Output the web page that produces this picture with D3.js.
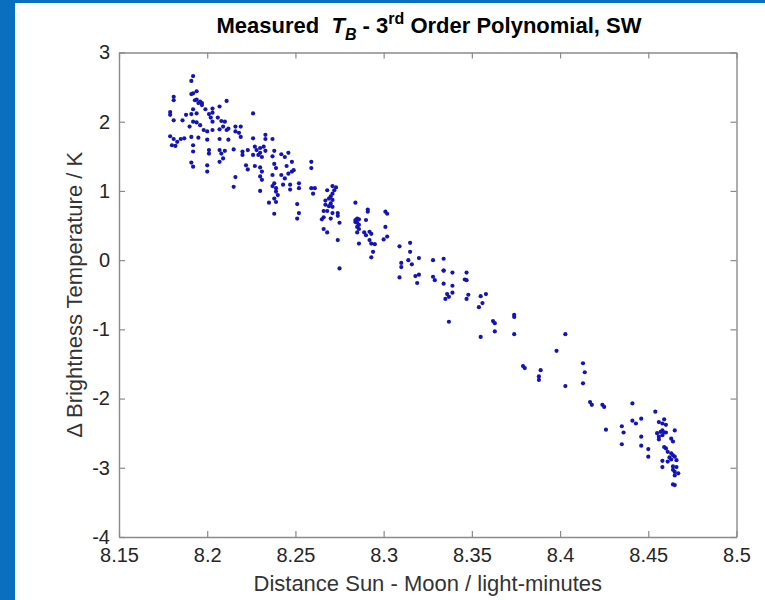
<!DOCTYPE html>
<html>
<head>
	<meta charset="utf-8">
	<title>Measured TB - 3rd Order Polynomial, SW</title>
	<script src="https://d3js.org/d3.v7.min.js"></script>
	<style>
		body { margin: 0; }
		svg { display: block; font-family: 'Liberation Sans', Arial, Helvetica, sans-serif; }
	</style>
</head>
<body>
	<div class="chart"></div>

	<script type="text/javascript">

		// tick values of the two axes
		var xTicks = [8.15, 8.2, 8.25, 8.3, 8.35, 8.4, 8.45, 8.5]
		var yTicks = [-4, -3, -2, -1, 0, 1, 2, 3]

		// [distance sun-moon (light-minutes), delta brightness temperature (K)]
		var measured = [
			[8.192, 2.66], [8.191, 2.59], [8.181, 2.36], [8.181, 2.31], [8.191, 2.40], [8.192, 2.41],
			[8.194, 2.44], [8.193, 2.31], [8.194, 2.32], [8.196, 2.29], [8.197, 2.27], [8.195, 2.27],
			[8.197, 2.24], [8.211, 2.30], [8.207, 2.22], [8.179, 2.14], [8.179, 2.10], [8.192, 2.18],
			[8.199, 2.18], [8.203, 2.19], [8.203, 2.13], [8.201, 2.11], [8.188, 2.10], [8.191, 2.11],
			[8.194, 2.12], [8.226, 2.12], [8.181, 2.02], [8.186, 2.02], [8.202, 2.06], [8.206, 2.06],
			[8.208, 2.01], [8.192, 2.00], [8.194, 1.99], [8.196, 1.95], [8.190, 1.93], [8.203, 2.00],
			[8.210, 2.00], [8.209, 1.93], [8.211, 1.88], [8.212, 1.90], [8.216, 1.93], [8.219, 1.93],
			[8.216, 1.86], [8.218, 1.84], [8.198, 1.88], [8.200, 1.86], [8.203, 1.88], [8.207, 1.89],
			[8.179, 1.79], [8.181, 1.75], [8.183, 1.71], [8.185, 1.75], [8.187, 1.76], [8.191, 1.78],
			[8.195, 1.77], [8.200, 1.74], [8.207, 1.75], [8.212, 1.74], [8.219, 1.78], [8.226, 1.76],
			[8.233, 1.81], [8.233, 1.75], [8.237, 1.75], [8.180, 1.66], [8.182, 1.65], [8.192, 1.66],
			[8.201, 1.59], [8.207, 1.59], [8.208, 1.54], [8.210, 1.58], [8.215, 1.60], [8.220, 1.57],
			[8.223, 1.59], [8.227, 1.64], [8.228, 1.59], [8.230, 1.62], [8.232, 1.64], [8.233, 1.58],
			[8.238, 1.58], [8.192, 1.57], [8.201, 1.54], [8.220, 1.52], [8.226, 1.52], [8.229, 1.52],
			[8.231, 1.49], [8.230, 1.55], [8.237, 1.50], [8.242, 1.53], [8.246, 1.55], [8.244, 1.49],
			[8.209, 1.47], [8.207, 1.42], [8.191, 1.41], [8.192, 1.35], [8.200, 1.37], [8.222, 1.37],
			[8.223, 1.31], [8.227, 1.36], [8.230, 1.34], [8.231, 1.28], [8.238, 1.39], [8.239, 1.33],
			[8.245, 1.36], [8.248, 1.42], [8.259, 1.42], [8.259, 1.33], [8.200, 1.28], [8.216, 1.20],
			[8.215, 1.06], [8.230, 1.21], [8.231, 1.16], [8.237, 1.23], [8.242, 1.23], [8.244, 1.18],
			[8.246, 1.25], [8.248, 1.28], [8.249, 1.30], [8.237, 1.07], [8.238, 1.11], [8.239, 1.04],
			[8.230, 1.00], [8.243, 1.09], [8.247, 1.09], [8.247, 1.02], [8.252, 1.11], [8.252, 1.04],
			[8.239, 0.99], [8.240, 0.94], [8.238, 0.89], [8.239, 0.84], [8.235, 0.83], [8.238, 0.67],
			[8.251, 0.81], [8.252, 0.68], [8.251, 0.60],
			[8.259, 1.04], [8.261, 1.04], [8.260, 0.96], [8.268, 1.01], [8.271, 1.07], [8.273, 1.05],
			[8.272, 1.01], [8.271, 0.96], [8.270, 0.92], [8.269, 0.89], [8.271, 0.87], [8.270, 0.82],
			[8.267, 0.86], [8.267, 0.80], [8.269, 0.78], [8.271, 0.77], [8.266, 0.71], [8.268, 0.71],
			[8.271, 0.68], [8.274, 0.68], [8.274, 0.64], [8.266, 0.62], [8.265, 0.59], [8.270, 0.60],
			[8.275, 0.54], [8.266, 0.45], [8.268, 0.40], [8.274, 0.29], [8.275, -0.12],
			[8.284, 0.83], [8.284, 0.58], [8.285, 0.60], [8.286, 0.59], [8.285, 0.54], [8.286, 0.51],
			[8.285, 0.48], [8.286, 0.45], [8.285, 0.40], [8.284, 0.55], [8.290, 0.58], [8.291, 0.73],
			[8.291, 0.70], [8.289, 0.40], [8.290, 0.36], [8.292, 0.41], [8.293, 0.38], [8.292, 0.29],
			[8.293, 0.24], [8.295, 0.23], [8.286, 0.24], [8.294, 0.12], [8.293, 0.04],
			[8.301, 0.70], [8.302, 0.67], [8.301, 0.48], [8.302, 0.34], [8.300, 0.30],
			[8.309, 0.20], [8.315, 0.25], [8.315, 0.12], [8.310, -0.04], [8.310, -0.10], [8.309, -0.25],
			[8.314, 0.00], [8.316, -0.06], [8.320, 0.03], [8.318, -0.23], [8.320, -0.21], [8.319, -0.33],
			[8.328, 0.00], [8.334, 0.02], [8.328, -0.24], [8.329, -0.29], [8.334, -0.15], [8.334, -0.15],
			[8.334, -0.34], [8.339, -0.18], [8.339, -0.37], [8.339, -0.47], [8.336, -0.49], [8.337, -0.53],
			[8.335, -0.56], [8.337, -0.89],
			[8.347, -0.18], [8.346, -0.28], [8.347, -0.29], [8.348, -0.50], [8.347, -0.56],
			[8.355, -0.52], [8.358, -0.49], [8.356, -0.62], [8.354, -0.68], [8.362, -0.88], [8.363, -0.91],
			[8.363, -1.03], [8.355, -1.11], [8.374, -0.79], [8.374, -0.82], [8.374, -1.07],
			[8.379, -1.53], [8.380, -1.56], [8.389, -1.59], [8.388, -1.68], [8.388, -1.73],
			[8.398, -1.31], [8.403, -1.07], [8.403, -1.82], [8.413, -1.49], [8.414, -1.62], [8.413, -1.78],
			[8.417, -2.05], [8.418, -2.09], [8.424, -2.09], [8.425, -2.12], [8.441, -2.07], [8.454, -2.19],
			[8.426, -2.45], [8.435, -2.40], [8.436, -2.49], [8.435, -2.66], [8.441, -2.32], [8.443, -2.36],
			[8.446, -2.29], [8.446, -2.55], [8.446, -2.68], [8.450, -2.73], [8.450, -2.84],
			[8.456, -2.34], [8.458, -2.36], [8.459, -2.30], [8.460, -2.38], [8.455, -2.50], [8.457, -2.48],
			[8.458, -2.46], [8.459, -2.49], [8.458, -2.53], [8.456, -2.55], [8.456, -2.59], [8.460, -2.49],
			[8.465, -2.46], [8.463, -2.58], [8.464, -2.62], [8.459, -2.70], [8.460, -2.72], [8.461, -2.77],
			[8.463, -2.79], [8.464, -2.82], [8.462, -2.85], [8.465, -2.84], [8.466, -2.89], [8.463, -2.88],
			[8.461, -2.91], [8.458, -2.90], [8.458, -2.99], [8.464, -2.98], [8.466, -2.99], [8.464, -3.03],
			[8.465, -3.06], [8.467, -3.08], [8.465, -3.11], [8.464, -3.24], [8.465, -3.25]
		]

		var width = 765
		var height = 600
		var plot = { left: 119, right: 736.5, top: 52.5, bottom: 537 }
		var axisColor = '#8a8a8a'
		var textColor = '#262626'

		var svg = d3
			.select('.chart')
			.append('svg')
			.attr('width', width)
			.attr('height', height)

		// blue frame of the slide, white figure
		svg.append('rect').attr('width', width).attr('height', height).attr('fill', '#0a6fbf')
		svg.append('rect').attr('x', 15).attr('y', 3).attr('width', width - 15).attr('height', height - 3).attr('fill', '#fff')

		var xScale = d3.scaleLinear().domain([8.15, 8.5]).range([plot.left, plot.right])
		var yScale = d3.scaleLinear().domain([-4, 3]).range([plot.bottom, plot.top])

		var fmtX = (d) => String(+d.toFixed(2))
		var fmtY = (d) => String(d)

		// axes, ticks pointing inward on all four sides
		svg.append('g')
			.attr('transform', `translate(0, ${plot.bottom})`)
			.call(d3.axisBottom(xScale).tickValues(xTicks).tickFormat(fmtX).tickSizeInner(-6).tickSizeOuter(0).tickPadding(11))
		svg.append('g')
			.attr('transform', `translate(0, ${plot.top})`)
			.call(d3.axisTop(xScale).tickValues(xTicks).tickFormat('').tickSizeInner(-6).tickSizeOuter(0))
		svg.append('g')
			.attr('transform', `translate(${plot.left}, 0)`)
			.call(d3.axisLeft(yScale).tickValues(yTicks).tickFormat(fmtY).tickSizeInner(-6).tickSizeOuter(0).tickPadding(9))
		svg.append('g')
			.attr('transform', `translate(${plot.right}, 0)`)
			.call(d3.axisRight(yScale).tickValues(yTicks).tickFormat('').tickSizeInner(-6).tickSizeOuter(0))

		svg.selectAll('.domain').attr('stroke', axisColor).attr('stroke-width', 1.4)
		svg.selectAll('.tick line').attr('stroke', axisColor).attr('stroke-width', 1.2)
		svg.selectAll('.tick text')
			.attr('fill', textColor)
			.style('font-size', '20px')
			.style('font-family', "'Liberation Sans', Arial, sans-serif")

		// points
		svg.append('g')
			.selectAll('circle')
			.data(measured)
			.enter()
			.append('circle')
			.attr('cx', (d) => xScale(d[0]))
			.attr('cy', (d) => yScale(d[1]))
			.attr('r', 2.1)
			.attr('fill', '#1414b4')

		// title
		var title = svg.append('text')
			.attr('x', 429)
			.attr('y', 33)
			.attr('text-anchor', 'middle')
			.attr('fill', '#000')
			.style('font-size', '22px')
			.style('font-weight', 'bold')
		title.append('tspan').text('Measured\u00a0\u00a0')
		title.append('tspan').style('font-style', 'italic').text('T')
		title.append('tspan').attr('dy', 7).style('font-size', '16px').style('font-style', 'italic').text('B')
		title.append('tspan').attr('dy', -7).text(' - 3')
		title.append('tspan').attr('dy', -9).style('font-size', '16px').text('rd')
		title.append('tspan').attr('dy', 9).text(' Order Polynomial, SW')

		// axis labels
		svg.append('text')
			.attr('x', (plot.left + plot.right) / 2)
			.attr('y', 591)
			.attr('text-anchor', 'middle')
			.attr('fill', '#333')
			.style('font-size', '22px')
			.text('Distance Sun - Moon / light-minutes')

		svg.append('text')
			.attr('transform', `translate(82, ${(plot.top + plot.bottom) / 2}) rotate(-90)`)
			.attr('text-anchor', 'middle')
			.attr('fill', '#333')
			.style('font-size', '22px')
			.text('\u0394 Brightness Temperature / K')

	</script>
</body>
</html>
